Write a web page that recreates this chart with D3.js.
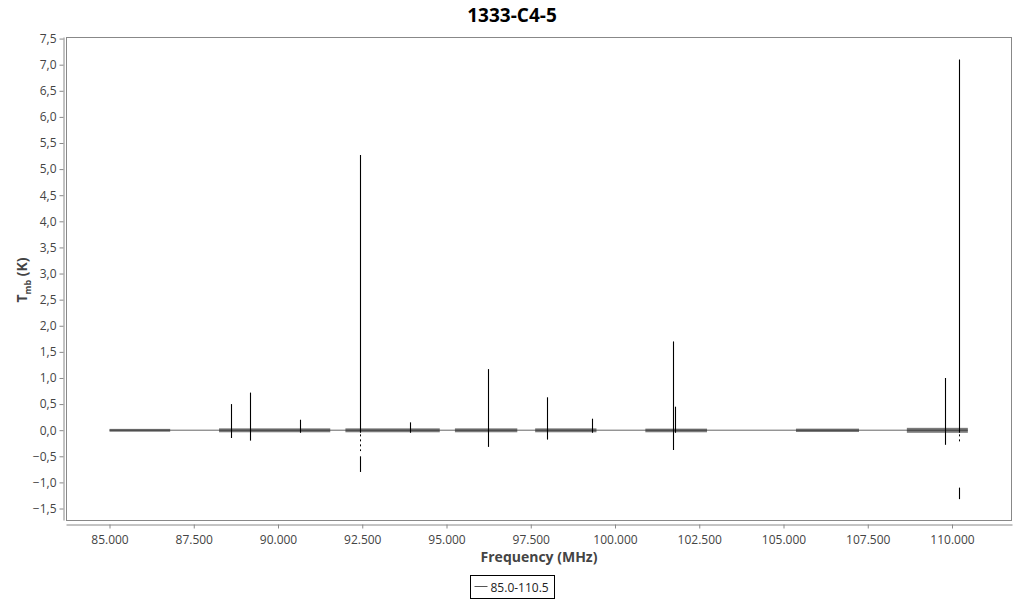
<!DOCTYPE html>
<html>
<head>
<meta charset="utf-8">
<script src="https://cdn.jsdelivr.net/npm/d3@7"></script>
<style>
	body { margin: 0; background: #fff; }
	svg { font-family: "Open Sans", sans-serif; }
</style>
</head>
<body>
<div id="chart"></div>
<script>
// observed frequency ranges (MHz) of each spectral window
var segStart = [85000, 88250, 92000, 95250, 97630, 100900, 105370, 108660];
var segEnd   = [86800, 91550, 94800, 97100, 99450, 102730, 107240, 110470];
// noise envelope of each window (K)
var segLow  = [-0.03, -0.04, -0.04, -0.04, -0.04, -0.04, -0.035, -0.05];
var segHigh = [0.025, 0.035, 0.035, 0.035, 0.035, 0.03, 0.03, 0.045];

// line peaks
var peakFreq = [88610, 89170, 90650, 92430, 93920, 96230, 97980, 99320, 101720, 101770, 109790, 110220];
var peakMax  = [0.50, 0.72, 0.20, 5.27, 0.15, 1.17, 0.63, 0.22, 1.70, 0.45, 1.00, 7.10];
var peakMin  = [-0.15, -0.20, -0.05, -0.05, -0.05, -0.32, -0.18, -0.05, -0.38, -0.05, -0.28, -0.05];

// detached negative features (dashed part, then solid part)
var dipFreq   = [92430, 110220];
var dashTop   = [-0.08, -0.08];
var dashBot   = [-0.40, -0.22];
var dipTop    = [-0.50, -1.10];
var dipBottom = [-0.80, -1.32];

var yTicks = [-1.5, -1.0, -0.5, 0, 0.5, 1.0, 1.5, 2.0, 2.5, 3.0, 3.5, 4.0, 4.5, 5.0, 5.5, 6.0, 6.5, 7.0, 7.5];
var xTicks = [85000, 87500, 90000, 92500, 95000, 97500, 100000, 102500, 105000, 107500, 110000];

var W = 1024, H = 600;
var plot = { left: 66, right: 1012, top: 37, bottom: 520 };

var loc = d3.formatLocale({ decimal: ",", thousands: ".", grouping: [3], currency: ["", "€"] });

var x = d3.scaleLinear().domain([83709, 111780]).range([plot.left, plot.right]);
var y = d3.scaleLinear().domain([-1.72, 7.53]).range([plot.bottom, plot.top]);

var svg = d3.select("#chart").append("svg")
	.attr("width", W)
	.attr("height", H);

// title
svg.append("text")
	.attr("x", W / 2)
	.attr("y", 22)
	.attr("text-anchor", "middle")
	.style("font-weight", "bold")
	.style("font-size", "19px")
	.attr("fill", "#000")
	.text("1333-C4-5");

// frame
svg.append("rect")
	.attr("x", plot.left + 0.5)
	.attr("y", plot.top + 0.5)
	.attr("width", plot.right - plot.left - 1)
	.attr("height", plot.bottom - plot.top)
	.attr("fill", "none")
	.attr("stroke", "#888");

// y axis
var yAxis = svg.append("g")
	.attr("transform", "translate(63.5,0)")
	.call(d3.axisLeft(y).tickValues(yTicks).tickFormat(loc.format(".1f")).tickSize(4).tickSizeOuter(0));
yAxis.select(".domain").attr("stroke", "#888");
yAxis.selectAll(".tick line").attr("stroke", "#888");
yAxis.selectAll(".tick text").attr("fill", "#444").style("font-size", "12px").style("font-family", "Open Sans");

// x axis
var xAxis = svg.append("g")
	.attr("transform", "translate(0,524.5)")
	.call(d3.axisBottom(x).tickValues(xTicks).tickFormat(loc.format(",.0f")).tickSize(4).tickSizeOuter(0));
xAxis.select(".domain").attr("stroke", "#888");
xAxis.selectAll(".tick line").attr("stroke", "#888");
xAxis.selectAll(".tick text").attr("fill", "#444").style("font-size", "12px").style("font-family", "Open Sans").attr("dy", "1.0em");

// axis titles
svg.append("text")
	.attr("x", (plot.left + plot.right) / 2)
	.attr("y", 562)
	.attr("text-anchor", "middle")
	.style("font-weight", "bold")
	.style("font-size", "14px")
	.attr("fill", "#444")
	.text("Frequency (MHz)");

var yl = svg.append("text")
	.attr("transform", "translate(27,280) rotate(-90)")
	.attr("text-anchor", "middle")
	.style("font-weight", "bold")
	.style("font-size", "14px")
	.attr("fill", "#444");
yl.append("tspan").text("T");
yl.append("tspan").text("mb").style("font-size", "9px").attr("dy", "4");
yl.append("tspan").text(" (K)").attr("dy", "-4");

// baseline joining the windows
svg.append("line")
	.attr("x1", x(segStart[0]))
	.attr("x2", x(segEnd[segEnd.length - 1]))
	.attr("y1", y(0))
	.attr("y2", y(0))
	.attr("stroke", "#666")
	.attr("stroke-width", 1);

// noise bands
svg.append("g").selectAll("rect")
	.data(segStart)
	.join("rect")
	.attr("x", (d, i) => x(d))
	.attr("width", (d, i) => x(segEnd[i]) - x(d))
	.attr("y", (d, i) => y(segHigh[i]))
	.attr("height", (d, i) => y(segLow[i]) - y(segHigh[i]))
	.attr("fill", "#222")
	.attr("opacity", 0.6);

// peaks
svg.append("g").selectAll("line")
	.data(peakFreq)
	.join("line")
	.attr("x1", d => Math.round(x(d)) + 0.5)
	.attr("x2", d => Math.round(x(d)) + 0.5)
	.attr("y1", (d, i) => y(peakMax[i]))
	.attr("y2", (d, i) => y(peakMin[i]))
	.attr("stroke", "#000")
	.attr("stroke-width", 1.1);

// dashed and solid negative features
svg.append("g").selectAll("line")
	.data(dipFreq)
	.join("line")
	.attr("x1", d => Math.round(x(d)) + 0.5)
	.attr("x2", d => Math.round(x(d)) + 0.5)
	.attr("y1", (d, i) => y(dashTop[i]))
	.attr("y2", (d, i) => y(dashBot[i]))
	.attr("stroke", "#000")
	.attr("stroke-dasharray", "2,3");
svg.append("g").selectAll("line")
	.data(dipFreq)
	.join("line")
	.attr("x1", d => Math.round(x(d)) + 0.5)
	.attr("x2", d => Math.round(x(d)) + 0.5)
	.attr("y1", (d, i) => y(dipTop[i]))
	.attr("y2", (d, i) => y(dipBottom[i]))
	.attr("stroke", "#000")
	.attr("stroke-width", 1.1);

// legend
var lg = svg.append("g").attr("transform", "translate(470.5,575.5)");
lg.append("rect")
	.attr("width", 84)
	.attr("height", 23)
	.attr("fill", "#fff")
	.attr("stroke", "#000");
lg.append("line")
	.attr("x1", 4).attr("x2", 17)
	.attr("y1", 11).attr("y2", 11)
	.attr("stroke", "#555");
lg.append("text")
	.attr("x", 20)
	.attr("y", 16)
	.style("font-size", "12px")
	.attr("fill", "#222")
	.text("85.0-110.5");
</script>
</body>
</html>
